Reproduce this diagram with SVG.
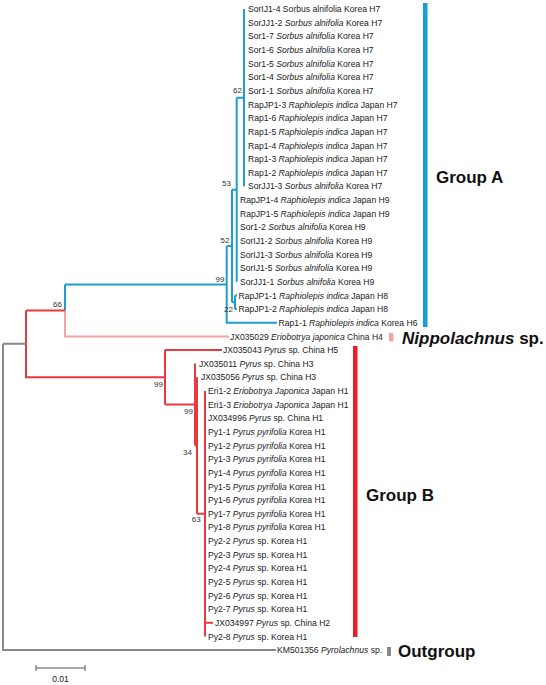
<svg xmlns="http://www.w3.org/2000/svg" width="546" height="685" viewBox="0 0 546 685">
<style>
.t{font-family:"Liberation Sans",Arial,sans-serif;font-size:8.6px;fill:#222}
.i{font-style:italic}
.bs{font-family:"Liberation Sans",Arial,sans-serif;font-size:8px;fill:#333;text-anchor:end}
.g{font-family:"Liberation Sans",Arial,sans-serif;font-size:17px;font-weight:bold;fill:#111}
.b{fill:none;stroke:#1e9dd0;stroke-width:2}
.r{fill:none;stroke:#e8393f;stroke-width:2}
.p{fill:none;stroke:#f6a3a3;stroke-width:2}
.k{fill:none;stroke:#888;stroke-width:2}
</style>
<rect width="546" height="685" fill="#fff"/>
<g id="connectors">
<path class="b" d="M244 9V186.3M236.7 97.7H244M236.7 97.7V281.8M232 189.7H236.7M235 295.4V309.1M232 302.3H235M235 295.4H237M235 309.1H237M232 189.7V302.3M226.7 246H232M226.7 246V322.7H277M65 284.4H226.7M65 284.4V310.4"/>
<path class="p" d="M65 310.4V336.4H229"/>
<path class="r" d="M26 310.4H65M26 310.4V377.3H165M165 350V404.6M165 350H222M165 404.6H195M195 363.6V445.5M195 445.5H197M197 377.3V513.7M197 513.7H205M205 390.9V636.4M205 622.8H213"/>
<path class="k" d="M3 343.8H26M3 343.8V650.1H276"/>
<path d="M36 668H85M36 665V671M85 665V671" fill="none" stroke="#555" stroke-width="1"/>
<text x="60.5" y="682" class="t" text-anchor="middle">0.01</text>
</g>
<g id="bootstrap">
<text class="bs" x="242" y="93">62</text>
<text class="bs" x="231" y="186">53</text>
<text class="bs" x="229.5" y="243">52</text>
<text class="bs" x="224.5" y="282">99</text>
<text class="bs" x="233" y="312">22</text>
<text class="bs" x="62" y="307">66</text>
<text class="bs" x="163" y="387">99</text>
<text class="bs" x="193" y="414">99</text>
<text class="bs" x="192" y="455">34</text>
<text class="bs" x="200.7" y="522">63</text>
</g>
<g id="groupA-leaves">
<text class="t" x="248" y="12.1">SorIJ1-4 Sorbus alnifolia Korea H7</text>
<text class="t" x="248" y="25.7">SorJJ1-2 <tspan class="i">Sorbus alnifolia</tspan> Korea H7</text>
<text class="t" x="248" y="39.4">Sor1-7 <tspan class="i">Sorbus alnifolia</tspan> Korea H7</text>
<text class="t" x="248" y="53">Sor1-6 <tspan class="i">Sorbus alnifolia</tspan> Korea H7</text>
<text class="t" x="248" y="66.7">Sor1-5 <tspan class="i">Sorbus alnifolia</tspan> Korea H7</text>
<text class="t" x="248" y="80.3">Sor1-4 <tspan class="i">Sorbus alnifolia</tspan> Korea H7</text>
<text class="t" x="248" y="93.9">Sor1-1 <tspan class="i">Sorbus alnifolia</tspan> Korea H7</text>
<text class="t" x="248" y="107.6">RapJP1-3 <tspan class="i">Raphiolepis indica</tspan> Japan H7</text>
<text class="t" x="248" y="121.2">Rap1-6 <tspan class="i">Raphiolepis indica</tspan> Japan H7</text>
<text class="t" x="248" y="134.9">Rap1-5 <tspan class="i">Raphiolepis indica</tspan> Japan H7</text>
<text class="t" x="248" y="148.5">Rap1-4 <tspan class="i">Raphiolepis indica</tspan> Japan H7</text>
<text class="t" x="248" y="162.1">Rap1-3 <tspan class="i">Raphiolepis indica</tspan> Japan H7</text>
<text class="t" x="248" y="175.8">Rap1-2 <tspan class="i">Raphiolepis indica</tspan> Japan H7</text>
<text class="t" x="248" y="189.4">SorJJ1-3 <tspan class="i">Sorbus alnifolia</tspan> Korea H7</text>
<text class="t" x="240" y="203.1">RapJP1-4 <tspan class="i">Raphiolepis indica</tspan> Japan H9</text>
<text class="t" x="240" y="216.7">RapJP1-5 <tspan class="i">Raphiolepis indica</tspan> Japan H9</text>
<text class="t" x="240" y="230.3">Sor1-2 <tspan class="i">Sorbus alnifolia</tspan> Korea H9</text>
<text class="t" x="240" y="244">SorIJ1-2 <tspan class="i">Sorbus alnifolia</tspan> Korea H9</text>
<text class="t" x="240" y="257.6">SorIJ1-3 <tspan class="i">Sorbus alnifolia</tspan> Korea H9</text>
<text class="t" x="240" y="271.3">SorIJ1-5 <tspan class="i">Sorbus alnifolia</tspan> Korea H9</text>
<text class="t" x="240" y="284.9">SorJJ1-1 <tspan class="i">Sorbus alnifolia</tspan> Korea H9</text>
<text class="t" x="238.5" y="298.5">RapJP1-1 <tspan class="i">Raphiolepis indica</tspan> Japan H8</text>
<text class="t" x="238.5" y="312.2">RapJP1-2 <tspan class="i">Raphiolepis indica</tspan> Japan H8</text>
<text class="t" x="278.5" y="325.8">Rap1-1 <tspan class="i">Raphiolepis indica</tspan> Korea H6</text>
</g>
<g id="nippolachnus-leaf">
<text class="t" x="230" y="339.5">JX035029 <tspan class="i">Eriobotrya japonica</tspan> China H4</text>
</g>
<g id="groupB-leaves">
<text class="t" x="223" y="353.1">JX035043 <tspan class="i">Pyrus</tspan> sp. China H5</text>
<text class="t" x="199" y="366.7">JX035011 <tspan class="i">Pyrus</tspan> sp. China H3</text>
<text class="t" x="201" y="380.4">JX035056 <tspan class="i">Pyrus</tspan> sp. China H3</text>
<text class="t" x="208" y="394">Eri1-2 <tspan class="i">Eriobotrya Japonica</tspan> Japan H1</text>
<text class="t" x="208" y="407.7">Eri1-3 <tspan class="i">Eriobotrya Japonica</tspan> Japan H1</text>
<text class="t" x="208" y="421.3">JX034996 <tspan class="i">Pyrus</tspan> sp. China H1</text>
<text class="t" x="208" y="434.9">Py1-1 <tspan class="i">Pyrus pyrifolia</tspan> Korea H1</text>
<text class="t" x="208" y="448.6">Py1-2 <tspan class="i">Pyrus pyrifolia</tspan> Korea H1</text>
<text class="t" x="208" y="462.2">Py1-3 <tspan class="i">Pyrus pyrifolia</tspan> Korea H1</text>
<text class="t" x="208" y="475.9">Py1-4 <tspan class="i">Pyrus pyrifolia</tspan> Korea H1</text>
<text class="t" x="208" y="489.5">Py1-5 <tspan class="i">Pyrus pyrifolia</tspan> Korea H1</text>
<text class="t" x="208" y="503.1">Py1-6 <tspan class="i">Pyrus pyrifolia</tspan> Korea H1</text>
<text class="t" x="208" y="516.8">Py1-7 <tspan class="i">Pyrus pyrifolia</tspan> Korea H1</text>
<text class="t" x="208" y="530.4">Py1-8 <tspan class="i">Pyrus pyrifolia</tspan> Korea H1</text>
<text class="t" x="208" y="544.1">Py2-2 <tspan class="i">Pyrus</tspan> sp. Korea H1</text>
<text class="t" x="208" y="557.7">Py2-3 <tspan class="i">Pyrus</tspan> sp. Korea H1</text>
<text class="t" x="208" y="571.3">Py2-4 <tspan class="i">Pyrus</tspan> sp. Korea H1</text>
<text class="t" x="208" y="585">Py2-5 <tspan class="i">Pyrus</tspan> sp. Korea H1</text>
<text class="t" x="208" y="598.6">Py2-6 <tspan class="i">Pyrus</tspan> sp. Korea H1</text>
<text class="t" x="208" y="612.3">Py2-7 <tspan class="i">Pyrus</tspan> sp. Korea H1</text>
<text class="t" x="215" y="625.9">JX034997 <tspan class="i">Pyrus</tspan> sp. China H2</text>
<text class="t" x="208" y="639.5">Py2-8 <tspan class="i">Pyrus</tspan> sp. Korea H1</text>
</g>
<g id="outgroup-leaf">
<text class="t" x="277" y="653.2">KM501356 <tspan class="i">Pyrolachnus</tspan> sp.</text>
</g>
<g id="groupA">
<rect x="423" y="3" width="4.5" height="324" fill="#12a0d7"/>
<text class="g" x="436" y="183">Group A</text>
</g>
<g id="nippolachnus">
<rect x="389" y="333" width="4.5" height="8.5" fill="#f6a3a3"/>
<text class="g" x="402" y="343.5"><tspan font-style="italic">Nippolachnus</tspan> sp.</text>
</g>
<g id="groupB">
<rect x="353" y="346" width="4.5" height="291" fill="#ee1c24"/>
<text class="g" x="366" y="501">Group B</text>
</g>
<g id="outgroup">
<rect x="387" y="647" width="4" height="9" fill="#888"/>
<text class="g" x="398" y="657">Outgroup</text>
</g>
</svg>
